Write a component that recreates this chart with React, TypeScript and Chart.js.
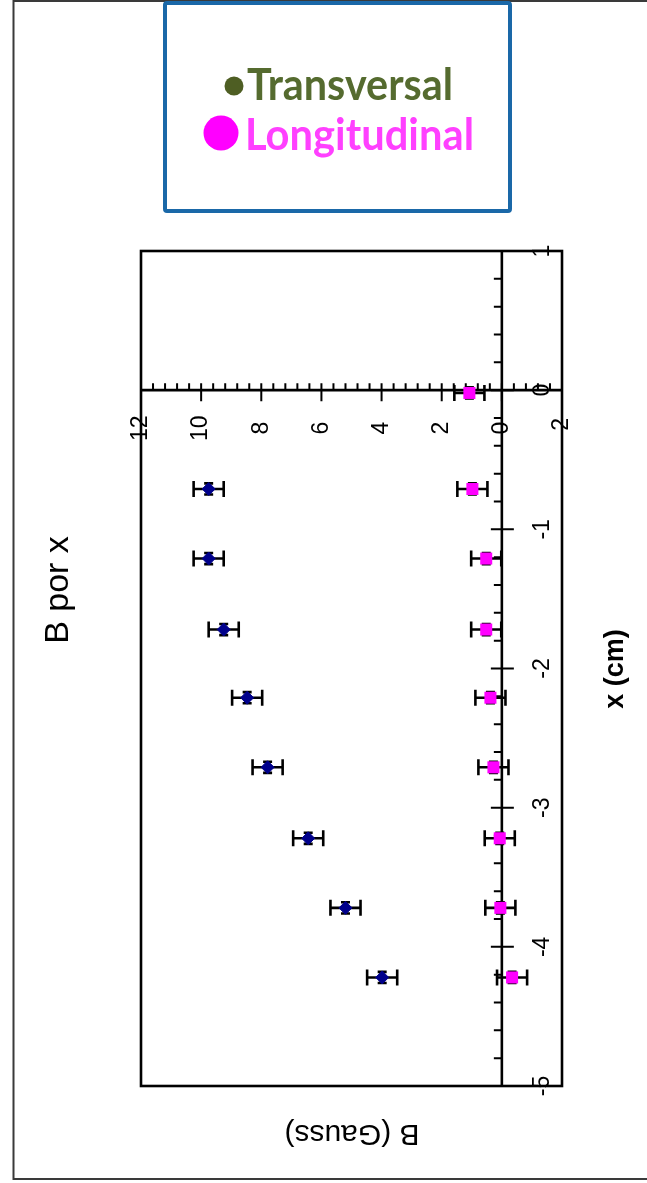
import React, { useEffect, useRef } from "react";
import { Chart, registerables } from "chart.js";

Chart.register(...registerables);

// ---- data (x in cm, B in Gauss) ----
const transX = [-0.71, -1.21, -1.72, -2.21, -2.71, -3.22, -3.72, -4.22];
const transB = [9.75, 9.75, 9.25, 8.47, 7.79, 6.44, 5.2, 3.98];
const transBErr = [0.5, 0.5, 0.5, 0.5, 0.5, 0.5, 0.5, 0.5];
const transXErr = [0.04, 0.04, 0.04, 0.04, 0.04, 0.04, 0.04, 0.04];

const longX = [-0.02, -0.71, -1.21, -1.72, -2.21, -2.71, -3.22, -3.72, -4.22];
const longB = [1.08, 0.98, 0.52, 0.52, 0.38, 0.28, 0.07, 0.05, -0.34];
const longBErr = [0.5, 0.5, 0.5, 0.5, 0.5, 0.5, 0.5, 0.5, 0.5];
const longXErr = [0.04, 0.04, 0.04, 0.04, 0.04, 0.04, 0.04, 0.04, 0.04];

const bTicks = [12, 10, 8, 6, 4, 2, 0, -2];
const xTicks = [1, 0, -1, -2, -3, -4, -5];

const legendLabels = ["Transversal", "Longitudinal"];
const titleText = "B por x";
const xAxisTitle = "x (cm)";
const bAxisTitle = "B (Gauss)";

const W = 647;
const H = 1183;

function rotText(ctx: CanvasRenderingContext2D, text: string, x: number, y: number, angle: number, font: string, color: string) {
  ctx.save();
  ctx.translate(x, y);
  ctx.rotate(angle);
  ctx.font = font;
  ctx.fillStyle = color;
  ctx.textAlign = "center";
  ctx.textBaseline = "middle";
  ctx.fillText(text, 0, 0);
  ctx.restore();
}

const decorPlugin = {
  id: "decor",
  beforeDraw(chart: any) {
    const ctx: CanvasRenderingContext2D = chart.ctx;
    const area = chart.chartArea;
    const xs = chart.scales.x; // B (horizontal, reversed)
    const ys = chart.scales.y; // x cm (vertical)
    ctx.save();
    ctx.fillStyle = "#ffffff";
    ctx.fillRect(0, 0, W, H);

    // outer frame
    ctx.strokeStyle = "#3a3a3a";
    ctx.lineWidth = 2;
    ctx.beginPath();
    ctx.moveTo(W + 5, 1);
    ctx.lineTo(13.5, 1);
    ctx.lineTo(13.5, 1179);
    ctx.lineTo(W + 5, 1179);
    ctx.stroke();

    // legend box
    ctx.fillStyle = "#ffffff";
    ctx.fillRect(164, 2, 347, 210);
    ctx.strokeStyle = "#1a68a8";
    ctx.lineWidth = 4;
    ctx.beginPath();
    (ctx as any).roundRect ? (ctx as any).roundRect(165, 3, 345, 208, 2) : ctx.rect(165, 3, 345, 208);
    ctx.stroke();

    ctx.fillStyle = "#4e5e23";
    ctx.beginPath();
    ctx.arc(234, 86, 9.5, 0, Math.PI * 2);
    ctx.fill();
    ctx.fillStyle = "#ff00ff";
    ctx.beginPath();
    ctx.arc(221, 133, 17.5, 0, Math.PI * 2);
    ctx.fill();

    ctx.textAlign = "left";
    ctx.textBaseline = "alphabetic";
    ctx.font = "bold 44px Lato";
    ctx.fillStyle = "#556b2f";
    ctx.fillText(legendLabels[0], 247, 100, 206);
    ctx.fillStyle = "#ff40ff";
    ctx.fillText(legendLabels[1], 245, 150, 229);

    // titles
    rotText(ctx, titleText, 59, 590, -Math.PI / 2, "34px 'Liberation Sans'", "#000");
    rotText(ctx, xAxisTitle, 616, 669, -Math.PI / 2, "bold 27px 'Liberation Sans'", "#000");
    rotText(ctx, bAxisTitle, 352, 1133, Math.PI, "30px 'Liberation Sans'", "#000");

    // tick labels
    const x0 = xs.getPixelForValue(0);
    const y0 = ys.getPixelForValue(0);
    for (const b of bTicks) {
      rotText(ctx, String(b), xs.getPixelForValue(b), y0 + 38, -Math.PI / 2, "23px 'Liberation Sans'", "#000");
    }
    for (const v of xTicks) {
      rotText(ctx, String(v), x0 + 41, ys.getPixelForValue(v), -Math.PI / 2, "23px 'Liberation Sans'", "#000");
    }

    // plot box
    ctx.strokeStyle = "#000";
    ctx.lineWidth = 2.6;
    ctx.strokeRect(area.left, area.top, area.right - area.left, area.bottom - area.top);

    // zero lines
    ctx.beginPath();
    ctx.moveTo(x0, area.top);
    ctx.lineTo(x0, area.bottom);
    ctx.moveTo(area.left, y0);
    ctx.lineTo(area.right, y0);
    ctx.stroke();

    // ticks on horizontal (B) axis
    ctx.lineWidth = 2;
    ctx.beginPath();
    for (let i = -5; i <= 30; i++) {
      const b = i * 0.4;
      if (b < -2.001 || b > 12.001) continue;
      const px = xs.getPixelForValue(b);
      const major = Math.abs(b / 2 - Math.round(b / 2)) < 1e-6;
      if (major) {
        ctx.moveTo(px, y0 - 7);
        ctx.lineTo(px, y0 + 11);
      } else {
        ctx.moveTo(px, y0 - 7);
        ctx.lineTo(px, y0);
      }
    }
    // ticks on vertical (x) axis
    for (let i = -25; i <= 5; i++) {
      const v = i * 0.2;
      const py = ys.getPixelForValue(v);
      const major = i % 5 === 0;
      if (major) {
        ctx.moveTo(x0 - 11, py);
        ctx.lineTo(x0 + 12, py);
      } else {
        ctx.moveTo(x0 - 8, py);
        ctx.lineTo(x0, py);
      }
    }
    ctx.stroke();
    ctx.restore();
  },
  beforeDatasetsDraw(chart: any) {
    const ctx: CanvasRenderingContext2D = chart.ctx;
    const xs = chart.scales.x;
    const ys = chart.scales.y;
    const sets = [
      { xv: transX, bv: transB, be: transBErr, xe: transXErr },
      { xv: longX, bv: longB, be: longBErr, xe: longXErr },
    ];
    ctx.save();
    ctx.strokeStyle = "#000";
    ctx.lineWidth = 2.6;
    ctx.beginPath();
    for (const s of sets) {
      for (let i = 0; i < s.xv.length; i++) {
        const py = ys.getPixelForValue(s.xv[i]);
        const pl = xs.getPixelForValue(s.bv[i] - s.be[i]);
        const pr = xs.getPixelForValue(s.bv[i] + s.be[i]);
        ctx.moveTo(pl, py);
        ctx.lineTo(pr, py);
        ctx.moveTo(pl, py - 8);
        ctx.lineTo(pl, py + 8);
        ctx.moveTo(pr, py - 8);
        ctx.lineTo(pr, py + 8);
        const px = xs.getPixelForValue(s.bv[i]);
        const pt = ys.getPixelForValue(s.xv[i] + s.xe[i]);
        const pb = ys.getPixelForValue(s.xv[i] - s.xe[i]);
        ctx.moveTo(px, pt);
        ctx.lineTo(px, pb);
        ctx.moveTo(px - 4.5, pt);
        ctx.lineTo(px + 4.5, pt);
        ctx.moveTo(px - 4.5, pb);
        ctx.lineTo(px + 4.5, pb);
      }
    }
    ctx.stroke();
    ctx.restore();
  },
};

export default function App() {
  const ref = useRef<HTMLCanvasElement | null>(null);
  useEffect(() => {
    if (!ref.current) return;
    const chart = new Chart(ref.current, {
      type: "scatter",
      data: {
        datasets: [
          {
            label: legendLabels[0],
            data: transX.map((v, i) => ({ x: transB[i], y: v })),
            pointStyle: "rectRot",
            pointRadius: 6.5,
            backgroundColor: "#00008b",
            borderColor: "#00008b",
            borderWidth: 1,
          },
          {
            label: legendLabels[1],
            data: longX.map((v, i) => ({ x: longB[i], y: v })),
            pointStyle: "rect",
            pointRadius: 8.5,
            backgroundColor: "#ff00ff",
            borderColor: "#ff00ff",
            borderWidth: 0,
          },
        ],
      },
      options: {
        responsive: false,
        animation: false,
        devicePixelRatio: 1,
        events: [],
        layout: { padding: { left: 141, right: W - 562, top: 251, bottom: H - 1086 } },
        plugins: { legend: { display: false }, tooltip: { enabled: false }, title: { display: false } },
        scales: {
          x: { type: "linear", min: -2, max: 12, reverse: true, display: false },
          y: { type: "linear", min: -5, max: 1, display: false },
        },
      },
      plugins: [decorPlugin],
    } as any);
    return () => chart.destroy();
  }, []);
  return (
    <div style={{ position: "absolute", left: 0, top: 0, width: W, height: H, background: "#fff" }}>
      <canvas ref={ref} width={W} height={H} style={{ display: "block", width: W, height: H }} />
    </div>
  );
}
